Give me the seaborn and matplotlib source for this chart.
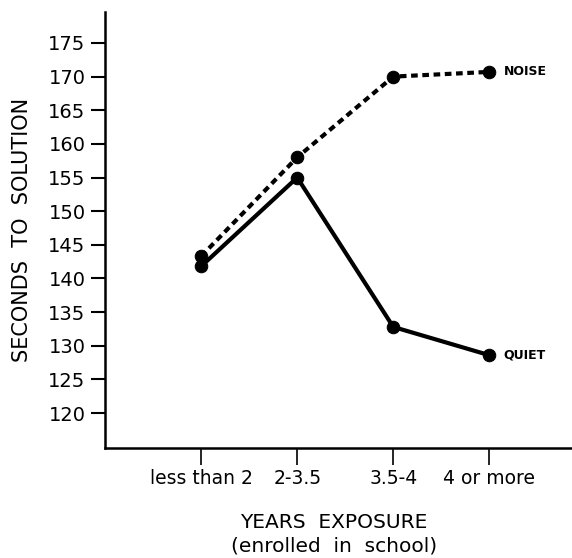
import pandas as pd
import matplotlib.pyplot as plt
import seaborn as sns

# Данные
exposure = ["less than 2", "2-3.5", "3.5-4", "4 or more"]
noise = [143.3, 158.0, 170.0, 170.7]
quiet = [141.8, 155.0, 132.8, 128.6]
y_ticks = [120, 125, 130, 135, 140, 145, 150, 155, 160, 165, 170, 175]

df = pd.DataFrame({
    "exposure": exposure * 2,
    "seconds": noise + quiet,
    "group": ["NOISE"] * 4 + ["QUIET"] * 4
})

sns.set_style("white")
plt.rcParams["font.family"] = ["DejaVu Sans"]

fig = plt.figure(figsize=(5.72, 5.58), dpi=100)
ax = fig.add_axes([0.1836, 0.197, 0.8164, 0.7815])

sns.lineplot(
    data=df,
    x="exposure",
    y="seconds",
    hue="group",
    style="group",
    palette={"NOISE": "black", "QUIET": "black"},
    dashes={"NOISE": (1.6, 1.1), "QUIET": ""},
    markers={"NOISE": "o", "QUIET": "o"},
    markersize=9,
    markeredgecolor="black",
    linewidth=3,
    legend=False,
    ax=ax
)

# Подписи серий справа от последней точки
ax.text(3.15, noise[-1], "NOISE", fontsize=9, fontweight="bold",
        va="center", ha="left", color="black")
ax.text(3.15, quiet[-1], "QUIET", fontsize=9, fontweight="bold",
        va="center", ha="left", color="black")

ax.set_xlim(-1, 3.86)
ax.set_ylim(114.8, 179.6)
ax.set_yticks(y_ticks)
ax.set_yticklabels([str(t) for t in y_ticks], fontsize=14, color="black")
ax.set_xticks(range(len(exposure)))
ax.set_xticklabels(exposure, fontsize=13.5, color="black")

ax.tick_params(axis="y", direction="out", length=10, width=1.5, pad=4,
               left=True, color="black")
ax.tick_params(axis="x", direction="out", length=12, width=1.2, pad=3,
               bottom=True, color="black")

for side in ["top", "right"]:
    ax.spines[side].set_visible(False)
for side in ["left", "bottom"]:
    ax.spines[side].set_linewidth(1.8)
    ax.spines[side].set_color("black")

ax.set_ylabel("SECONDS  TO  SOLUTION", fontsize=15, labelpad=12, color="black")
ax.set_xlabel("")

# Подпись оси X в две строки
fig.text(0.584, 1 - 522 / 558, "YEARS  EXPOSURE", fontsize=14.5,
         ha="center", va="center", color="black")
fig.text(0.584, 1 - 546 / 558, "(enrolled  in  school)", fontsize=14.5,
         ha="center", va="center", color="black")

plt.savefig("out.png", dpi=100)
plt.close()
